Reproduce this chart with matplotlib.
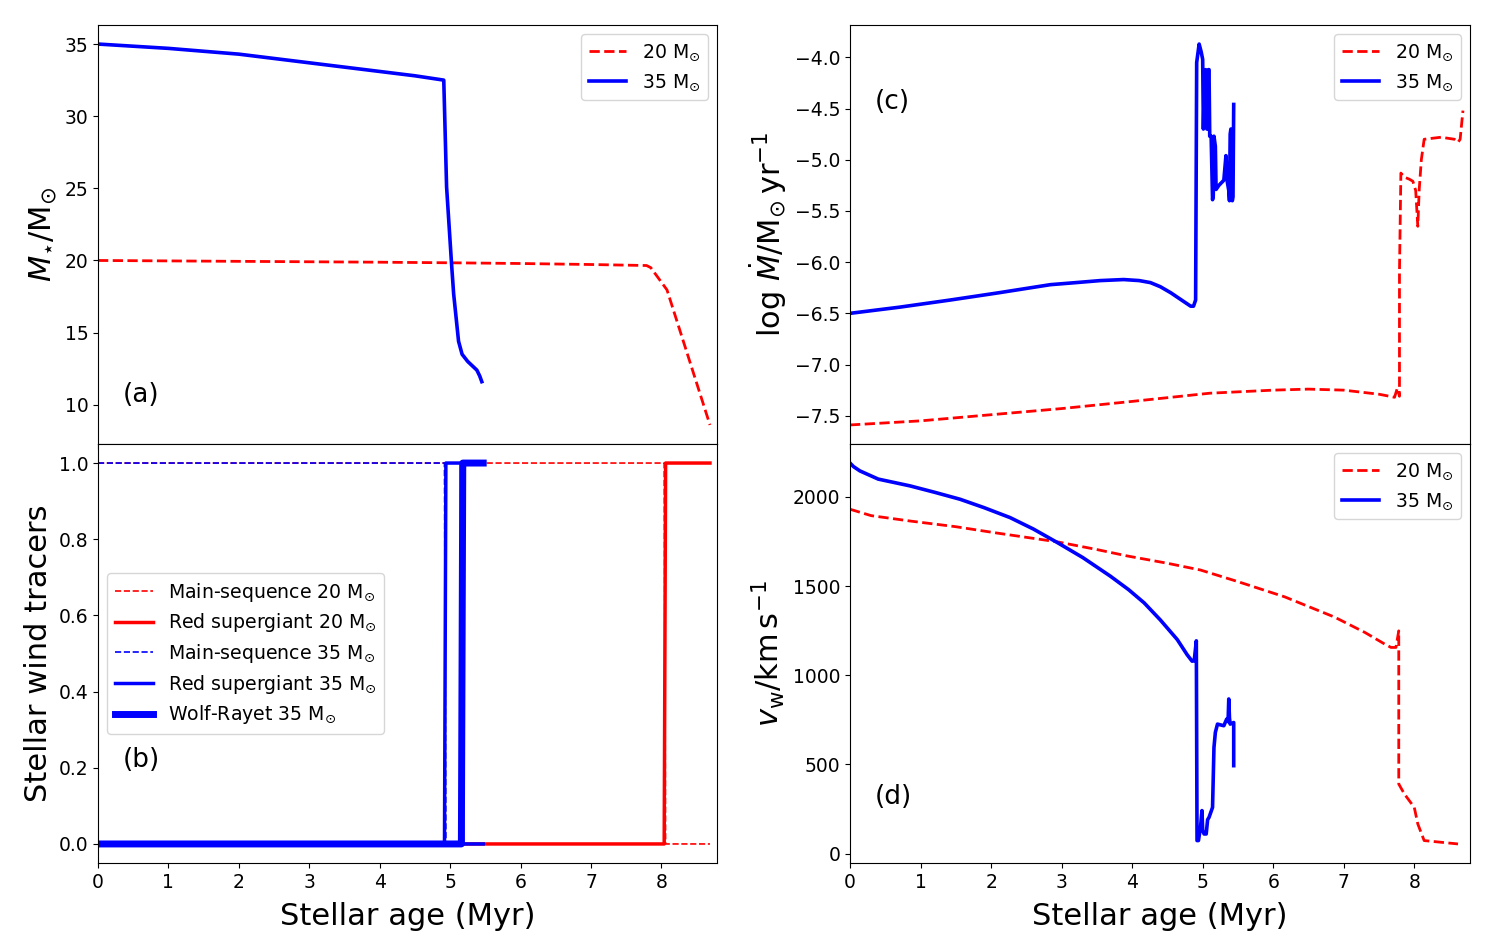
import numpy as np
import matplotlib
matplotlib.use("Agg")
from matplotlib import pyplot as plt

# ---- (a) stellar mass
t_m20 = [0, 1, 2, 3, 4, 5, 6, 7, 7.79, 7.85, 8.08, 8.69]
m20 = [20.0, 19.97, 19.94, 19.91, 19.88, 19.84, 19.79, 19.72, 19.65, 19.5, 17.96, 8.6]
t_m35 = [0, 1, 2, 3, 4, 4.5, 4.91, 4.95, 5.02, 5.05, 5.12, 5.17, 5.25, 5.38, 5.42, 5.45]
m35 = [35.0, 34.7, 34.3, 33.7, 33.1, 32.8, 32.5, 25.1, 19.8, 17.7, 14.4, 13.5, 13.0, 12.4, 12.0, 11.6]

# ---- (b) wind tracers
t_tr20 = [0, 8.04, 8.06, 8.69]
ms20 = [1, 1, 0, 0]
rsg20 = [0, 0, 1, 1]
t_tr35 = [0, 4.92, 4.94, 5.16, 5.18, 5.47]
ms35 = [1, 1, 0, 0, 0, 0]
rsg35 = [0, 0, 1, 1, 0, 0]
wr35 = [0, 0, 0, 0, 1, 1]

# ---- (c) mass loss rate
t_mdot20 = [0, 1, 2, 3, 4, 5.1, 6, 6.5, 7, 7.5, 7.65, 7.72, 7.76, 7.79, 7.79, 7.81,
            7.86, 7.93, 7.98, 8.02, 8.05, 8.07, 8.1, 8.14, 8.38, 8.57, 8.62, 8.65, 8.69]
mdot20 = [-7.59, -7.55, -7.49, -7.43, -7.36, -7.28, -7.25, -7.24, -7.25, -7.29, -7.31, -7.32,
          -7.23, -7.31, -6.10, -5.13, -5.17, -5.19, -5.21, -5.3, -5.65, -5.29, -5.0, -4.80,
          -4.78, -4.80, -4.83, -4.80, -4.52]
t_mdot35 = [0, 0.7, 1.42, 2.1, 2.84, 3.2, 3.55, 3.88, 4.1, 4.26, 4.4, 4.55, 4.7, 4.83, 4.87,
            4.9, 4.915, 4.95, 4.98, 5.0, 5.01,
            5.02, 5.03, 5.04, 5.06, 5.07, 5.08, 5.09, 5.10, 5.12, 5.14, 5.15, 5.16, 5.18,
            5.19, 5.23, 5.30, 5.33, 5.35, 5.37, 5.38, 5.39, 5.40, 5.42, 5.43, 5.44]
mdot35 = [-6.5, -6.44, -6.37, -6.3, -6.22, -6.2, -6.18, -6.17, -6.18, -6.2, -6.24, -6.3,
          -6.37, -6.43, -6.43, -6.37, -4.05,
          -3.87, -3.95, -4.02, -4.7, -4.38, -4.6, -4.12, -4.7, -4.7, -4.12, -4.12, -4.77,
          -4.77, -5.39, -5.35, -4.77, -4.87, -5.29, -5.25, -5.2, -4.96, -5.22, -5.3, -5.4,
          -4.75, -4.7, -5.4, -5.36, -4.46]

# ---- (d) wind velocity
t_vw20 = [0, 0.3, 0.85, 1.5, 2.04, 2.94, 3.5, 3.93, 4.5, 4.97, 5.5, 6.16, 6.87, 7.3, 7.58,
          7.67, 7.74, 7.78, 7.78, 7.86, 8.0, 8.05, 8.14, 8.62]
vw20 = [1931, 1895, 1865, 1833, 1800, 1748, 1705, 1669, 1628, 1590, 1525, 1440, 1326, 1240,
        1175, 1156, 1156, 1249, 390, 334, 259, 166, 73, 54]
t_vw35 = [0, 0.05, 0.14, 0.4, 0.85, 1.2, 1.56, 1.9, 2.27, 2.6, 2.94, 3.3, 3.69, 3.95, 4.17,
          4.4, 4.64, 4.78, 4.85, 4.88, 4.91, 4.92, 4.94, 4.97, 4.99, 5.0,
          5.02, 5.05, 5.07, 5.09, 5.14, 5.16, 5.18, 5.21, 5.30, 5.34, 5.36, 5.37, 5.38,
          5.39, 5.44, 5.44]
vw35 = [2190, 2170, 2146, 2100, 2062, 2026, 1987, 1940, 1884, 1820, 1744, 1660, 1556, 1480,
        1406, 1310, 1200, 1115, 1079, 1081, 1193, 73, 73, 150,
        241, 130, 110, 110, 190, 203, 259, 595, 680, 726, 717, 754, 740, 867, 760, 726,
        735, 493]

fig = plt.figure(figsize=(14.95, 9.51), dpi=100)
W, H = 1495.0, 951.0
axa = fig.add_axes([98 / W, (H - 444) / H, 619 / W, 419 / H])
axb = fig.add_axes([98 / W, (H - 863) / H, 619 / W, 419 / H], sharex=axa)
axc = fig.add_axes([850 / W, (H - 444) / H, 620 / W, 419 / H])
axd = fig.add_axes([850 / W, (H - 863) / H, 620 / W, 419 / H], sharex=axc)

xmax = 8.79
lab20 = r'20 M$_{\odot}$'
lab35 = r'35 M$_{\odot}$'
lfs = 13.6
afs = 22
pfs = 19

axa.plot(t_m20, m20, 'r--', lw=2, label=lab20)
axa.plot(t_m35, m35, 'b-', lw=2.6, label=lab35)
axa.set_ylabel(r'$M_{\star}/\mathrm{M}_{\odot}$', fontsize=afs)
axa.legend(loc='upper right', fontsize=lfs)
axa.text(0.04, 0.1, '(a)', transform=axa.transAxes, fontsize=pfs)

axb.plot(t_tr20, ms20, 'r--', lw=1.2, label=r'Main-sequence 20 M$_{\odot}$')
axb.plot(t_tr20, rsg20, 'r-', lw=2.5, label=r'Red supergiant 20 M$_{\odot}$')
axb.plot(t_tr35, ms35, 'b--', lw=1.2, label=r'Main-sequence 35 M$_{\odot}$')
axb.plot(t_tr35, rsg35, 'b-', lw=2.5, label=r'Red supergiant 35 M$_{\odot}$')
axb.plot(t_tr35, wr35, 'b-', lw=5, label=r'Wolf-Rayet 35 M$_{\odot}$')
axb.set_ylabel('Stellar wind tracers', fontsize=afs)
axb.set_xlabel('Stellar age (Myr)', fontsize=afs, labelpad=7.5)
axb.legend(loc='center left', fontsize=lfs, labelspacing=0.4)
axb.text(0.04, 0.23, '(b)', transform=axb.transAxes, fontsize=pfs)

axc.plot(t_mdot20, mdot20, 'r--', lw=2, label=lab20)
axc.plot(t_mdot35, mdot35, 'b-', lw=2.6, label=lab35)
axc.set_ylabel(r'log $\dot{M}/\mathrm{M}_{\odot}\,\mathrm{yr}^{-1}$', fontsize=afs)
axc.legend(loc='upper right', fontsize=lfs)
axc.text(0.04, 0.8, '(c)', transform=axc.transAxes, fontsize=pfs)

axd.plot(t_vw20, vw20, 'r--', lw=2, label=lab20)
axd.plot(t_vw35, vw35, 'b-', lw=2.6, label=lab35)
axd.set_ylabel(r'$v_{\mathrm{w}}/\mathrm{km\,s^{-1}}$', fontsize=afs)
axd.set_xlabel('Stellar age (Myr)', fontsize=afs, labelpad=7.5)
axd.legend(loc='upper right', fontsize=lfs)
axd.text(0.04, 0.14, '(d)', transform=axd.transAxes, fontsize=pfs)

for ax in (axa, axc):
    ax.tick_params(labelbottom=False)
for ax in (axa, axb, axc, axd):
    ax.set_xlim(0, xmax)
    ax.tick_params(labelsize=13.5)

fig.savefig('out.png', dpi=100)
